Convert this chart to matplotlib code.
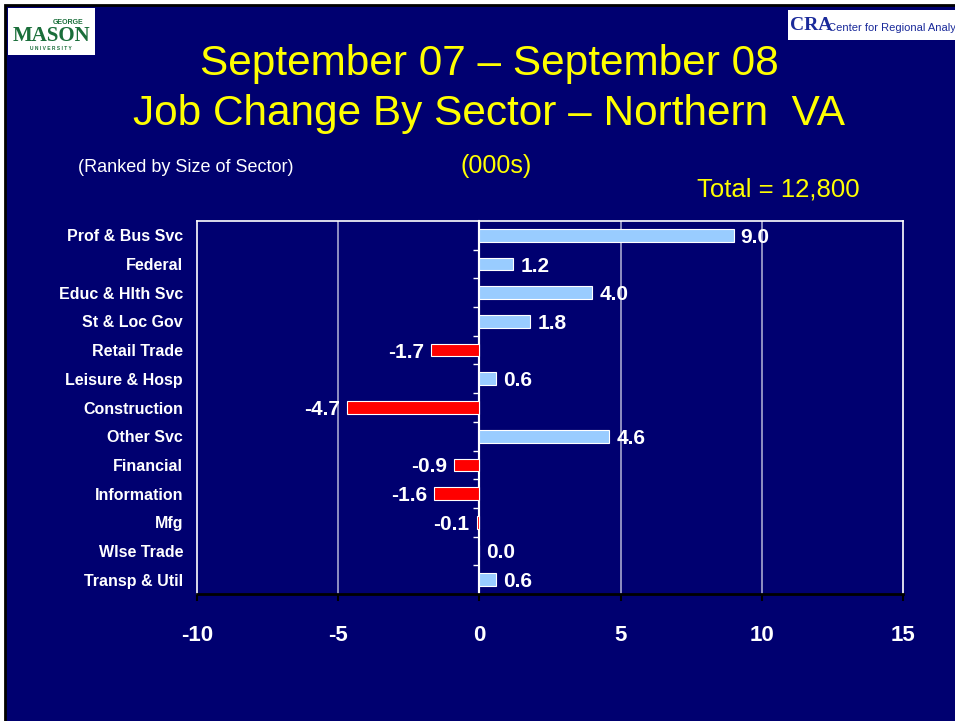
import matplotlib
matplotlib.use('Agg')
import matplotlib.pyplot as plt
from matplotlib.patches import Rectangle

# data, ranked by size of sector (000s)
secteurs = ['Prof & Bus Svc', 'Federal', 'Educ & Hlth Svc', 'St & Loc Gov', 'Retail Trade',
            'Leisure & Hosp', 'Construction', 'Other Svc', 'Financial', 'Information',
            'Mfg', 'Wlse Trade', 'Transp & Util']
variation = [9.0, 1.2, 4.0, 1.8, -1.7, 0.6, -4.7, 4.6, -0.9, -1.6, -0.1, 0.0, 0.6]
xticks_val = [-10, -5, 0, 5, 10, 15]

fond = '#000070'
bleu = '#99CCFF'
rouge = '#FF0000'
jaune = '#FFFF00'

plt.rcParams['font.family'] = ['Liberation Sans', 'DejaVu Sans']

fig = plt.figure(figsize=(9.55, 7.21), dpi=100)
fig.patch.set_facecolor('white')

# slide background with thin black border on top/left
W, H = 955.0, 721.0
fig.patches.append(Rectangle((5 / W, -0.02), 1, 1.02 - 5 / H, transform=fig.transFigure,
                             facecolor=fond, edgecolor='black', linewidth=2, zorder=-10))

# logos (approximated as text boxes)
fig.patches.append(Rectangle((8 / W, 1 - 55 / H), 87 / W, 47 / H, transform=fig.transFigure,
                             facecolor='white', edgecolor='none', zorder=-5))
fig.text(68 / W, 1 - 22 / H, 'GEORGE', color='#1a6e3a', fontsize=5, fontweight='bold', ha='center', va='center')
fig.text(51 / W, 1 - 36 / H, 'MASON', color='#1a6e3a', fontsize=15, fontweight='bold',
         ha='center', va='center', family=['Liberation Serif', 'DejaVu Serif'])
fig.text(51 / W, 1 - 49 / H, 'U N I V E R S I T Y', color='#1a6e3a', fontsize=3.5, fontweight='bold', ha='center', va='center')

fig.patches.append(Rectangle((788 / W, 1 - 40 / H), 167 / W, 30 / H, transform=fig.transFigure,
                             facecolor='white', edgecolor='none', zorder=-5))
fig.text(790 / W, 1 - 26 / H, 'CRA', color='#1a2a9a', fontsize=14, fontweight='bold',
         ha='left', va='center', family=['Liberation Serif', 'DejaVu Serif'])
fig.text(828 / W, 1 - 28 / H, 'Center for Regional Analy', color='#1a2a9a', fontsize=8,
         ha='left', va='center')

# titles
fig.text(489 / W, 1 - 64 / H, 'September 07 \u2013 September 08', color=jaune, fontsize=30.5, ha='center', va='center')
fig.text(489 / W, 1 - 114 / H, 'Job Change By Sector \u2013 Northern  VA', color=jaune, fontsize=30.5, ha='center', va='center')
fig.text(78 / W, 1 - 168 / H, '(Ranked by Size of Sector)', color='white', fontsize=13, ha='left', va='center')
fig.text(496 / W, 1 - 166 / H, '(000s)', color=jaune, fontsize=18, ha='center', va='center')
fig.text(697 / W, 1 - 189 / H, 'Total = 12,800', color=jaune, fontsize=18.5, ha='left', va='center')

ax = fig.add_axes([197 / W, 1 - 594 / H, 706 / W, 373 / H])
ax.set_facecolor(fond)

couleurs = [bleu if v >= 0 else rouge for v in variation]
pos = list(range(len(secteurs)))
barres = ax.barh(pos, variation, height=0.44, color=couleurs, edgecolor='white', linewidth=0.8, zorder=3)
etiq = ax.bar_label(barres, labels=['%.1f' % v for v in variation], padding=5,
                    color='white', fontsize=15, fontweight='bold', zorder=4)
for e in etiq:
    e.set_va('center_baseline')

ax.set_xlim(-10, 15)
ax.set_ylim(len(secteurs) - 0.5, -0.5)
ax.set_xticks(xticks_val)
ax.set_xticklabels([str(t) for t in xticks_val])
ax.set_yticks(pos)
ax.set_yticklabels(secteurs)

for t in xticks_val[1:-1]:
    if t == 0:
        ax.axvline(t, color='white', linewidth=1.5, zorder=2)
    else:
        ax.axvline(t, color='#A8A8D0', linewidth=1.2, zorder=1)

ax.tick_params(axis='x', colors='black', length=5, width=1.5, pad=17, labelcolor='white', labelsize=16)
ax.tick_params(axis='y', length=0, pad=10, labelcolor='white', labelsize=11.5)
for lab in ax.get_xticklabels() + ax.get_yticklabels():
    lab.set_fontweight('bold')

for cote in ['top', 'right', 'left']:
    ax.spines[cote].set_color('white')
    ax.spines[cote].set_linewidth(1.2)
ax.spines['bottom'].set_color('black')
ax.spines['bottom'].set_linewidth(2)

# small tick marks on the zero axis between categories
axe0 = ax.secondary_yaxis(10 / 25.0)
axe0.set_yticks([p + 0.5 for p in pos[:-1]])
axe0.set_yticklabels([])
axe0.tick_params(axis='y', colors='white', length=4, width=1, direction='out')
axe0.spines['left'].set_color('white')
axe0.spines['left'].set_linewidth(1.5)

savefig_kw = dict(dpi=100, facecolor=fig.get_facecolor())
plt.savefig('out.png', **savefig_kw)
plt.close()
